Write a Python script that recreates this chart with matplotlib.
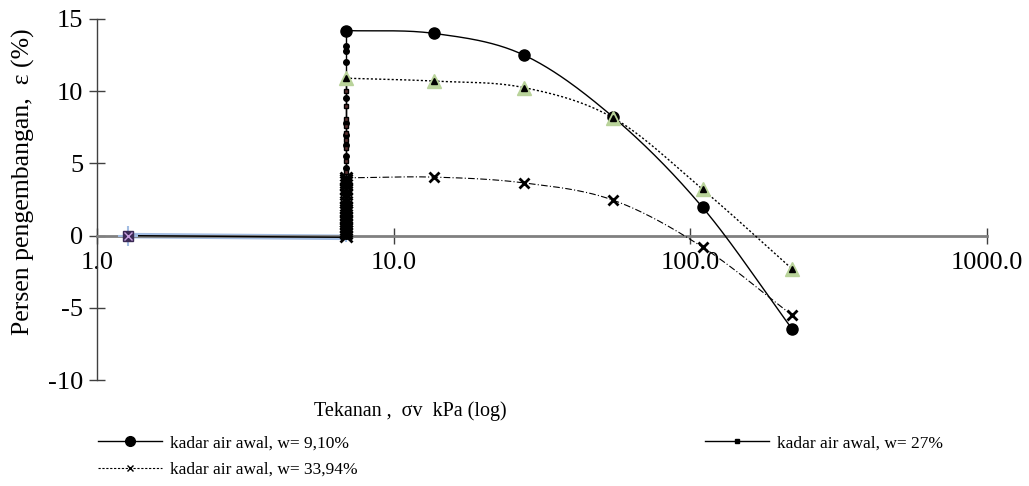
import numpy as np
import matplotlib.pyplot as plt
from matplotlib.lines import Line2D
from matplotlib.ticker import FixedLocator, FixedFormatter, NullLocator

plt.rcParams['font.family'] = ['Liberation Serif', 'DejaVu Serif']
plt.rcParams['font.size'] = 19

# tahap pembebanan (kPa) dan persen pengembangan tiap sampel
tekanan = [6.9, 13.7, 27.5, 55.0, 110.0, 220.0]
eps_w910 = [14.2, 14.0, 12.5, 8.2, 1.95, -6.45]
eps_w27 = [10.9, 10.7, 10.25, 8.15, 3.2, -2.3]
eps_w3394 = [4.0, 4.05, 3.65, 2.45, -0.8, -5.5]

# tahap seating (dari beban awal ke 6.9 kPa)
tekanan_awal = [1.27, 6.9]
eps_awal = [0.0, -0.12]

# pembacaan pengembangan pada beban 6.9 kPa
swell_w910 = [0.0, 0.4, 1.0, 1.6, 2.3, 3.0, 3.6, 4.7, 5.5, 6.3, 7.0, 7.8,
              9.5, 12.0, 12.8, 13.1, 14.2]
swell_w27 = [0.0, 0.5, 1.2, 2.0, 2.8, 3.6, 4.4, 5.2, 6.1, 6.6, 7.1, 7.6,
             8.1, 9.0, 10.0, 10.9]
swell_w3394 = [0.0, 0.15, 0.3, 0.45, 0.6, 0.8, 1.0, 1.2, 1.4, 1.6, 1.8, 2.0,
               2.3, 2.6, 2.9, 3.2, 3.5, 3.7, 3.85, 4.0]

xticks = [1, 10, 100, 1000]
xlabels = ['1.0', '10.0', '100.0', '1000.0']
yticks = [-10, -5, 0, 5, 10, 15]
ylabels = ['-10', '-5', '0', '5', '10', '15']


def smooth(x, y, n=40):
    # garis halus ala excel (catmull-rom di ruang log x)
    lx = np.log10(x)
    y = np.asarray(y, dtype=float)
    px = np.concatenate([[2 * lx[0] - lx[1]], lx, [2 * lx[-1] - lx[-2]]])
    py = np.concatenate([[2 * y[0] - y[1]], y, [2 * y[-1] - y[-2]]])
    xs, ys = [], []
    t = np.linspace(0, 1, n)
    for i in range(1, len(px) - 2):
        p0, p1, p2, p3 = px[i - 1:i + 3]
        q0, q1, q2, q3 = py[i - 1:i + 3]
        xs.append(0.5 * (2 * p1 + (-p0 + p2) * t + (2 * p0 - 5 * p1 + 4 * p2 - p3) * t ** 2
                         + (-p0 + 3 * p1 - 3 * p2 + p3) * t ** 3))
        ys.append(0.5 * (2 * q1 + (-q0 + q2) * t + (2 * q0 - 5 * q1 + 4 * q2 - q3) * t ** 2
                         + (-q0 + 3 * q1 - 3 * q2 + q3) * t ** 3))
    return 10 ** np.concatenate(xs), np.concatenate(ys)


fig = plt.figure(figsize=(10.29, 4.86), dpi=100)
ax = fig.add_axes([97 / 1029, 1 - 380 / 486, 890 / 1029, 361 / 486])
ax.set_xscale('log')

# seating
ax.plot(tekanan_awal, eps_awal, color='#a3bde3', lw=4, zorder=2)
ax.plot(tekanan_awal, eps_awal, color='black', lw=1, zorder=3)
ax.plot(tekanan_awal[0], 0, marker='s', ms=7, color='#3a2a55', zorder=4)
ax.plot(tekanan_awal[0], 0, marker='x', ms=6, mew=1, color='#c8a0e0', zorder=5)
ax.plot(tekanan_awal[0], 0, marker='+', ms=14, mew=1.5, color='#a3bde3', zorder=3)

# pengembangan pada 6.9 kPa
p0 = tekanan[0]
ax.plot([p0] * len(swell_w910), swell_w910, color='black', lw=1, marker='o', ms=4, zorder=4)
ax.plot([p0] * len(swell_w27), swell_w27, color='black', lw=1, marker='s', ms=3,
        mfc='#5a3030', zorder=4)
ax.plot([p0] * len(swell_w3394), swell_w3394, color='black', lw=1, marker='x', ms=8,
        mew=2, zorder=4)
ax.plot([p0, p0], [-0.4, 1.0], color='#a3bde3', lw=1.5, zorder=1)

# kurva pembebanan
sx, sy = smooth(tekanan, eps_w910)
ax.plot(sx, sy, color='black', lw=1, zorder=3)
ax.plot(tekanan, eps_w910, ls='none', marker='o', ms=8, color='black', zorder=5)

sx, sy = smooth(tekanan, eps_w27)
ax.plot(sx, sy, color='black', lw=1, ls=(0, (1.5, 1.5)), zorder=3)
ax.plot(tekanan, eps_w27, ls='none', marker='^', ms=10, color='#b9d39a', zorder=5)
ax.plot(tekanan, eps_w27, ls='none', marker='^', ms=4, color='black', zorder=6)

sx, sy = smooth(tekanan, eps_w3394)
ax.plot(sx, sy, color='black', lw=0.8, ls=(0, (6, 2, 1, 2)), zorder=3)
ax.plot(tekanan, eps_w3394, ls='none', marker='x', ms=7, mew=2, color='black', zorder=5)

ax.set_xlim(1, 1000)
ax.set_ylim(-10, 15)

for s in ['top', 'right']:
    ax.spines[s].set_visible(False)
ax.spines['bottom'].set_position(('data', 0))
ax.spines['bottom'].set_color('#808080')
ax.spines['bottom'].set_linewidth(2)
ax.spines['left'].set_color('#404040')
ax.spines['left'].set_linewidth(1)

ax.xaxis.set_major_locator(FixedLocator(xticks))
ax.xaxis.set_major_formatter(FixedFormatter(xlabels))
ax.xaxis.set_minor_locator(NullLocator())
ax.yaxis.set_major_locator(FixedLocator(yticks))
ax.yaxis.set_major_formatter(FixedFormatter(ylabels))
ax.tick_params(axis='x', direction='inout', length=12, width=1, color='#404040', pad=6)
ax.tick_params(axis='y', direction='inout', length=12, width=1, color='#404040', pad=4)

ax.set_ylabel('Persen pengembangan,  ε (%)', fontsize=18.5)
ax.yaxis.set_label_coords(-0.07, 0.55)
ax.set_xlabel('Tekanan ,  σv  kPa (log)', fontsize=14.5)
ax.xaxis.set_label_coords(0.352, -0.06)

h1 = Line2D([], [], color='black', lw=1, marker='o', ms=7)
h2 = Line2D([], [], color='black', lw=1, marker='s', ms=2.5)
h3 = Line2D([], [], color='black', lw=0.8, ls=(0, (2, 1.5)), marker='x', ms=5)
fig.legend([h1, h3, h2],
           ['kadar air awal, w= 9,10%', 'kadar air awal, w= 33,94%', 'kadar air awal, w= 27%'],
           ncol=2, loc='upper left', bbox_to_anchor=(98 / 1029, 1 - 435 / 486),
           frameon=False, fontsize=12.5, handlelength=3.7, handletextpad=0.45,
           columnspacing=20, labelspacing=0.6, borderaxespad=0, borderpad=0)

fig.savefig('out.png', dpi=100)
